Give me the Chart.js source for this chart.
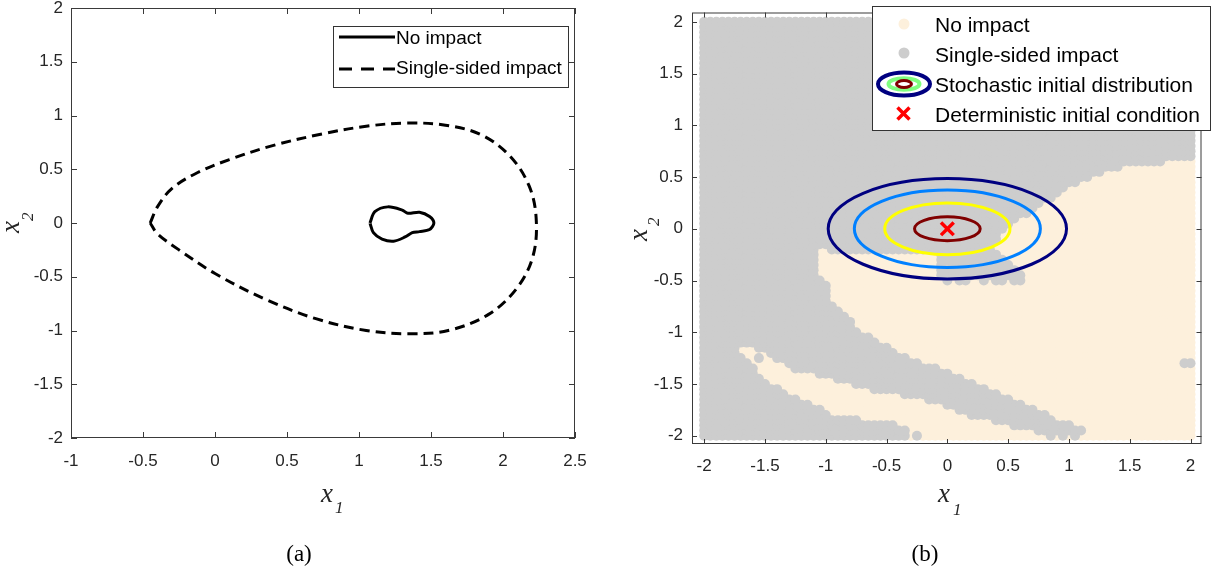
<!DOCTYPE html>
<html>
<head>
<meta charset="utf-8">
<script src="https://cdn.jsdelivr.net/npm/chart.js@4.4.1/dist/chart.umd.min.js"></script>
<style>
  body { margin: 0; background: #fff; width: 1214px; height: 573px; overflow: hidden; position: relative; }
  canvas { position: absolute; top: 0; }
  #left { left: 0; }
  #right { left: 610px; }
  .ser { position: absolute; font-family: 'Liberation Serif', 'Times New Roman', serif; color: #262626; white-space: nowrap; }
  .it { font-style: italic; }
  .big { font-size: 27px; line-height: 27px; }
  .sub { font-size: 17px; line-height: 17px; }
  .rot { position: absolute; left: 0; width: 0; height: 0; transform-origin: 0 0; transform: rotate(-90deg); }
  .cap { font-size: 23px; line-height: 23px; width: 100px; text-align: center; color: #000; }
  .box { position: absolute; background: #fff; border: 1px solid #333; box-sizing: border-box; }
  .lg { position: absolute; font-family: 'Liberation Sans', Arial, sans-serif; color: #000; white-space: nowrap; }
  svg { position: absolute; left: 0; top: 0; }
</style>
</head>
<body>
<canvas id="left" width="600" height="480"></canvas>
<canvas id="right" width="604" height="480"></canvas>

<!-- axis titles -->
<span class="ser it big" style="left:321px; top:480px">x</span>
<span class="ser it sub" style="left:335px; top:499px">1</span>
<span class="ser it big" style="left:938px; top:480px">x</span>
<span class="ser it sub" style="left:953px; top:501px">1</span>
<div class="rot" style="top:233px">
  <span class="ser it big" style="left:0; top:-3px">x</span>
  <span class="ser it sub" style="left:12px; top:19px">2</span>
</div>
<div class="rot" style="top:241px">
  <span class="ser it big" style="left:0; top:625px">x</span>
  <span class="ser it sub" style="left:15px; top:645px">2</span>
</div>
<span class="ser cap" style="left:249px; top:542px">(a)</span>
<span class="ser cap" style="left:875px; top:542px">(b)</span>

<!-- legends -->
<div class="box" style="left:333px; top:26px; width:236px; height:62px"></div>
<div class="box" style="left:872px; top:6px; width:339px; height:125px"></div>
<svg width="1214" height="573">
  <line x1="339" y1="37" x2="395" y2="37" stroke="#000" stroke-width="3"/>
  <line x1="339" y1="69" x2="395" y2="69" stroke="#000" stroke-width="3" stroke-dasharray="13 9"/>
  <circle cx="904" cy="24" r="5.5" fill="#fdf0dc"/>
  <circle cx="904" cy="53" r="5.5" fill="#cdcdcd"/>
  <ellipse cx="904" cy="84" rx="26" ry="11.5" fill="none" stroke="#000080" stroke-width="4"/>
  <ellipse cx="904" cy="84" rx="15.5" ry="5.8" fill="none" stroke="#80ff80" stroke-width="4"/>
  <ellipse cx="904" cy="84" rx="7.5" ry="3.5" fill="none" stroke="#800000" stroke-width="3"/>
  <path d="M897.5 107.5 L909.5 119.5 M909.5 107.5 L897.5 119.5" stroke="#ff0000" stroke-width="3.5"/>
</svg>
<span class="lg" style="left:396px; top:28px; font-size:19px; line-height:19px">No impact</span>
<span class="lg" style="left:396px; top:58px; font-size:19px; line-height:19px">Single-sided impact</span>
<span class="lg" style="left:935px; top:14px; font-size:21px; line-height:21px">No impact</span>
<span class="lg" style="left:935px; top:44px; font-size:21px; line-height:21px">Single-sided impact</span>
<span class="lg" style="left:935px; top:74px; font-size:21px; line-height:21px">Stochastic initial distribution</span>
<span class="lg" style="left:935px; top:104px; font-size:21px; line-height:21px">Deterministic initial condition</span>

<script>
// (a) boundaries of the two impact regimes
const noImpactX = [1.076, 1.11, 1.20, 1.30, 1.34, 1.42, 1.49, 1.52, 1.49, 1.42, 1.37, 1.32, 1.24, 1.16, 1.10, 1.076];
const noImpactY = [0, 0.105, 0.15, 0.12, 0.09, 0.10, 0.06, 0, -0.06, -0.08, -0.09, -0.13, -0.17, -0.15, -0.09, 0];
const singleX = [-0.45, -0.40, -0.30, -0.12, 0.10, 0.40, 0.75, 1.05, 1.33, 1.60, 1.85, 2.05, 2.18, 2.23, 2.21, 2.10, 1.90, 1.62, 1.35, 1.05, 0.70, 0.35, 0.00, -0.25, -0.40, -0.45];
const singleY = [0.00, 0.15, 0.32, 0.47, 0.59, 0.72, 0.83, 0.90, 0.93, 0.91, 0.82, 0.62, 0.35, 0.05, -0.30, -0.60, -0.85, -1.00, -1.03, -1.00, -0.89, -0.71, -0.47, -0.25, -0.10, 0.00];
const leftTicksX = [-1, -0.5, 0, 0.5, 1, 1.5, 2, 2.5];
const leftTicksY = [-2, -1.5, -1, -0.5, 0, 0.5, 1, 1.5, 2];

// (b) basin map on the 0.05 grid: for each x2 row, the x1 ranges with no impact
// (rows not listed, and everything outside the ranges, is single-sided impact)
const noImpactRows = [0.65, 0.6, 0.55, 0.5, 0.45, 0.4, 0.35, 0.3, 0.25, 0.2, 0.15, 0.1, 0.05, 0,
  -0.05, -0.1, -0.15, -0.2, -0.25, -0.3, -0.35, -0.4, -0.45, -0.5, -0.55, -0.6, -0.65, -0.7,
  -0.75, -0.8, -0.85, -0.9, -0.95, -1.0, -1.05, -1.1, -1.15, -1.2, -1.25, -1.3, -1.35, -1.4,
  -1.45, -1.5, -1.55, -1.6, -1.65, -1.7, -1.75, -1.8, -1.85, -1.9, -1.95, -2.0];
const noImpactRuns = [
  [[1.8, 2]], [[1.45, 2]], [[1.3, 2]], [[1.2, 2]], [[1.1, 2]], [[1.0, 2]], [[0.95, 2]],
  [[0.9, 2]], [[0.8, 2]], [[0.75, 2]], [[0.7, 2]], [[0.6, 2]], [[0.55, 2]], [[0.5, 2]],
  [[0.45, 2]], [[0.45, 2]], [[0.4, 2]],
  [[-1.05, -1.0], [0.4, 2]],
  [[-1.05, -0.1], [0.45, 2]],
  [[-1.05, -0.1], [0.5, 2]],
  [[-1.05, -0.1], [0.55, 2]],
  [[-1.05, -0.1], [0.6, 2]],
  [[-1.05, -0.1], [0.65, 2]],
  [[-1.0, -0.05], [0.05, 0.05], [0.2, 0.25], [0.35, 0.35], [0.5, 0.5], [0.65, 2]],
  [[-0.95, 2]], [[-0.95, 2]], [[-0.95, 2]], [[-0.95, 2]],
  [[-0.9, 2]], [[-0.85, 2]], [[-0.8, 2]], [[-0.75, 2]], [[-0.75, 2]], [[-0.7, 2]],
  [[-0.6, 2]], [[-0.55, 2]],
  [[-1.7, -1.6], [-0.45, 2]],
  [[-1.7, -1.5], [-0.4, 2]],
  [[-1.65, -1.6], [-1.5, -1.45], [-0.3, 2]],
  [[-1.6, -1.35], [-0.2, 1.9]],
  [[-1.55, -1.3], [-0.05, 2]],
  [[-1.55, -1.1], [0.05, 2]],
  [[-1.5, -0.95], [0.15, 2]],
  [[-1.45, -0.8], [0.25, 2]],
  [[-1.35, -0.65], [0.35, 2]],
  [[-1.3, -0.4], [0.45, 2]],
  [[-1.2, -0.2], [0.55, 2]],
  [[-1.1, -0.05], [0.65, 2]],
  [[-1.0, 0.05], [0.75, 2]],
  [[-0.95, 0.15], [0.85, 2]],
  [[-0.7, 0.35], [0.9, 2]],
  [[-0.4, 0.5], [1.05, 2]],
  [[-0.3, 0.7], [1.15, 2]],
  [[-0.3, -0.3], [-0.2, 0.8], [0.9, 0.9], [1.0, 1.0], [1.1, 2]]
];
// initial distribution contours (semi-axes) and the deterministic start
const contourA = [0.27, 0.515, 0.765, 0.98];
const contourB = [0.115, 0.25, 0.375, 0.485];
const contourColors = ['#800000', '#ffff00', '#0080ff', '#000080'];
const startX = [0];
const startY = [0];
const rightTicks = [-2, -1.5, -1, -0.5, 0, 0.5, 1, 1.5, 2];

const pts = (xs, ys) => xs.map((x, i) => ({ x, y: ys[i] }));

// sampling grid of the basin map (-2:0.05:2)
const grid = [];
for (let k = -40; k <= 40; k++) grid.push(k / 20);
const freePts = [], hitPts = [];
grid.forEach(y => {
  const r = noImpactRows.findIndex(v => Math.abs(v - y) < 1e-6);
  const runs = r < 0 ? [] : noImpactRuns[r];
  grid.forEach(x => {
    const free = runs.some(([a, b]) => x > a - 1e-6 && x < b + 1e-6);
    (free ? freePts : hitPts).push({ x, y });
  });
});

const tickFont = { family: "'Liberation Sans', Arial, sans-serif", size: 17 };

function axis(min, max, ticks, size, horiz, pad) {
  return {
    type: 'linear', min, max,
    grid: { display: false, drawTicks: false },
    border: { display: false },
    ticks: { color: '#262626', font: tickFont, padding: pad, autoSkip: false, maxRotation: 0, callback: v => String(v) },
    afterBuildTicks: s => { s.ticks = ticks.map(v => ({ value: v })); },
    afterFit: s => {
      if (horiz) s.height = size; else s.width = size;
      s.paddingTop = s.paddingBottom = s.paddingLeft = s.paddingRight = 0;
    }
  };
}

// MATLAB style box with inward ticks on all four sides
const frame = {
  id: 'frame',
  afterDraw(chart, args, opts) {
    const { ctx, chartArea: a, scales: { x, y } } = chart;
    const len = opts.len || 5;
    ctx.save();
    ctx.strokeStyle = '#3a3a3a';
    ctx.lineWidth = 1;
    ctx.strokeRect(a.left + 0.5, a.top + 0.5, a.right - a.left - 1, a.bottom - a.top - 1);
    ctx.beginPath();
    x.ticks.forEach(t => {
      const p = Math.round(x.getPixelForValue(t.value)) + 0.5;
      ctx.moveTo(p, a.bottom); ctx.lineTo(p, a.bottom - len);
      ctx.moveTo(p, a.top); ctx.lineTo(p, a.top + len);
    });
    y.ticks.forEach(t => {
      const p = Math.round(y.getPixelForValue(t.value)) + 0.5;
      ctx.moveTo(a.left, p); ctx.lineTo(a.left + len, p);
      ctx.moveTo(a.right, p); ctx.lineTo(a.right - len, p);
    });
    ctx.stroke();
    ctx.restore();
  }
};

const contours = {
  id: 'contours',
  afterDatasetsDraw(chart) {
    const { ctx, scales: { x, y } } = chart;
    const cx = x.getPixelForValue(startX[0]), cy = y.getPixelForValue(startY[0]);
    ctx.save();
    ctx.lineWidth = 3;
    contourA.forEach((a, i) => {
      ctx.beginPath();
      ctx.ellipse(cx, cy, x.getPixelForValue(a) - x.getPixelForValue(0), y.getPixelForValue(0) - y.getPixelForValue(contourB[i]), 0, 0, 2 * Math.PI);
      ctx.strokeStyle = contourColors[i];
      ctx.stroke();
    });
    ctx.restore();
  }
};

new Chart(document.getElementById('left'), {
  type: 'scatter',
  data: {
    datasets: [
      { label: 'No impact', data: pts(noImpactX, noImpactY), showLine: true, borderColor: '#000', borderWidth: 3, pointRadius: 0, tension: 0.3 },
      { label: 'Single-sided impact', data: pts(singleX, singleY), showLine: true, borderColor: '#000', borderWidth: 3, borderDash: [10, 6], pointRadius: 0, tension: 0.35 }
    ]
  },
  options: {
    responsive: false, animation: false, events: [],
    layout: { padding: { top: 8, right: 25, left: 0, bottom: 0 } },
    plugins: { legend: { display: false }, tooltip: { enabled: false }, frame: { len: 6 } },
    scales: {
      x: axis(-1, 2.5, leftTicksX, 42, true, 13),
      y: axis(-2, 2, leftTicksY, 71, false, 8)
    }
  },
  plugins: [frame]
});

new Chart(document.getElementById('right'), {
  type: 'scatter',
  data: {
    datasets: [
      { label: 'Deterministic initial condition', data: pts(startX, startY), pointStyle: 'crossRot', pointRadius: 9, borderColor: '#ff0000', pointBorderColor: '#ff0000', borderWidth: 3.5, pointBorderWidth: 3.5, order: 0 },
      { label: 'Single-sided impact', data: hitPts, pointRadius: 5, pointBorderWidth: 0, backgroundColor: '#cdcdcd', borderWidth: 0, order: 1 },
      { label: 'No impact', data: freePts, pointRadius: 5, pointBorderWidth: 0, backgroundColor: '#fdf0dc', borderWidth: 0, order: 2 }
    ]
  },
  options: {
    responsive: false, animation: false, events: [],
    layout: { padding: { top: 7, right: 2, left: 0, bottom: 0 } },
    plugins: { legend: { display: false }, tooltip: { enabled: false }, frame: { len: 5 } },
    scales: {
      x: axis(-2.1, 2.09, rightTicks, 36, true, 12),
      y: axis(-2.08, 2.09, rightTicks, 82, false, 9)
    }
  },
  plugins: [contours, frame]
});
</script>
</body>
</html>
